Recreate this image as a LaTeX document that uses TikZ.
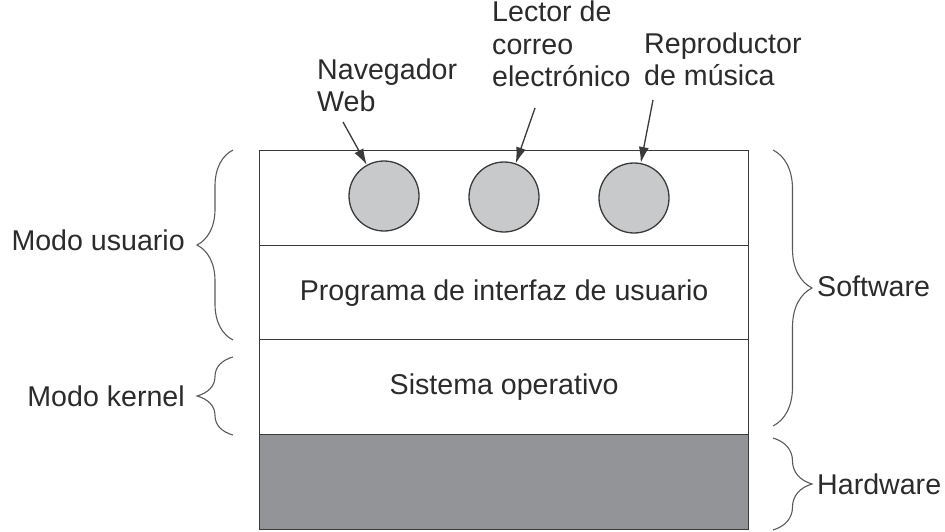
\documentclass[tikz,border=0pt]{standalone}
\usepackage{fontspec}
\setmainfont{Liberation Sans}
\usetikzlibrary{arrows.meta,decorations.pathreplacing}
\definecolor{linec}{HTML}{3A3A3A}
\definecolor{appfill}{HTML}{C8C9CB}
\definecolor{hwfill}{HTML}{939498}
\definecolor{txt}{HTML}{2B2B2B}
\definecolor{bracec}{HTML}{5A5A5A}
\newcommand{\lblfont}{\fontsize{28.6}{32.5}\selectfont}
\begin{document}
\begin{tikzpicture}[x=1pt,y=-1pt,
  layer/.style={draw=linec, line width=1.3pt, minimum width=489pt, minimum height=95pt,
    inner sep=0pt, anchor=north west, font=\lblfont, text=txt},
  app/.style={circle, draw=linec, fill=appfill, line width=1.3pt, minimum size=70pt, inner sep=0pt},
  lbl/.style={font=\lblfont, text=txt, inner sep=0pt, align=left},
  ptr/.style={-{Latex[length=16pt,width=10pt]}, line width=1.3pt, draw=linec},
  brc/.style={decorate, decoration={brace, amplitude=#1}, draw=bracec, line width=1.1pt}]
\useasboundingbox (0,0) rectangle (945,532);
% layers
\node[layer] (apps) at (259,150) {};
\node[layer, minimum height=94pt] (ui) at (259,245) {Programa de interfaz de usuario};
\node[layer] (os) at (259,339) {Sistema operativo};
\node[layer, fill=hwfill] (hw) at (259,434) {};
% applications
\node[app] (c1) at (384,196) {};
\node[app] (c2) at (504,197) {};
\node[app] (c3) at (634,198) {};
% labels above
\node[lbl, anchor=base west] (nav) at (317,112) {Navegador\\Web};
\node[lbl, anchor=base west] (lec) at (492,87) {Lector de\\correo\\electrónico};
\node[lbl, anchor=base west] (rep) at (644,86) {Reproductor\\de música};
\coordinate (a1) at (343,122);
\coordinate (a2) at (535,108);
\coordinate (a3) at (653,100);
\draw[ptr] (a1) -- (c1);
\draw[ptr] (a2) -- (c2);
\draw[ptr] (a3) -- (c3);
% braces
\draw[brc=36pt] (233,340) -- (233,150);
\draw[brc=36pt] (233,435) -- (233,357);
\draw[brc=39pt] (773,150) -- (773,426);
\draw[brc=39pt] (773,438) -- (773,530);
\node[lbl, anchor=east] (mu) at (185,240) {Modo usuario};
\node[lbl, anchor=east] (mk) at (185,396) {Modo kernel};
\node[lbl, anchor=west] (sw) at (817,286) {Software};
\node[lbl, anchor=west] (hwl) at (817,484) {Hardware};
\end{tikzpicture}
\end{document}
